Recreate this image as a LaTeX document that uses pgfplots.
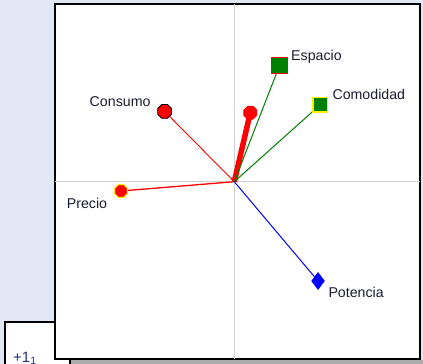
\documentclass[border=0pt]{standalone}
\usepackage{fontspec}
\setmainfont{Liberation Sans}
\usepackage{pgfplots}
\pgfplotsset{compat=1.18}
\definecolor{bg}{RGB}{226,231,245}
\definecolor{txt}{RGB}{28,28,48}
\definecolor{grn}{RGB}{0,128,0}
\definecolor{yel}{RGB}{255,240,0}
\definecolor{gridc}{RGB}{208,208,208}
\pgfdeclareplotmark{octagon}{%
  \pgfpathmoveto{\pgfpointpolar{22.5}{\pgfplotmarksize}}%
  \pgfpathlineto{\pgfpointpolar{67.5}{\pgfplotmarksize}}%
  \pgfpathlineto{\pgfpointpolar{112.5}{\pgfplotmarksize}}%
  \pgfpathlineto{\pgfpointpolar{157.5}{\pgfplotmarksize}}%
  \pgfpathlineto{\pgfpointpolar{202.5}{\pgfplotmarksize}}%
  \pgfpathlineto{\pgfpointpolar{247.5}{\pgfplotmarksize}}%
  \pgfpathlineto{\pgfpointpolar{292.5}{\pgfplotmarksize}}%
  \pgfpathlineto{\pgfpointpolar{337.5}{\pgfplotmarksize}}%
  \pgfpathclose
  \pgfusepathqfillstroke}
\newcommand{\lbl}{\fontsize{14.2}{16}\selectfont}
\begin{document}
\begin{tikzpicture}[x=1pt,y=1pt]
\clip (0,0) rectangle (423,364);
\fill[bg] (0,0) rectangle (423,364);
\fill[gray!65] (55,0) rectangle (423,4);
\filldraw[fill=white,draw=black,line width=1.2pt] (5,-5) rectangle (70,42);
\node[anchor=north west,inner sep=0,text={rgb,255:red,40;green,50;blue,130}] at (13,12) {\fontsize{15}{16}\selectfont +1\textsubscript{1}};
\begin{axis}[at={(55,5)}, anchor=south west, scale only axis,
  width=365pt, height=355pt,
  xmin=-179.3, xmax=185.7, ymin=-177.3, ymax=177.7,
  xtick=\empty, ytick=\empty,
  axis line style={black,line width=1.6pt},
  axis background/.style={fill=white},
  clip=false]
% reference lines
\addplot[gridc, line width=1.5pt] coordinates {(0,-177.3) (0,177.7)};
\addplot[gridc, line width=1.5pt] coordinates {(-179.3,0) (185.7,0)};
% vectors
\addplot[red, line width=0.9pt] coordinates {(0,0) (-69.7,70.3)};
\addplot[red, line width=5.5pt] coordinates {(0,0) (16,69)};
\addplot[grn, line width=1pt] coordinates {(0,0) (45.3,116.3)};
\addplot[grn, line width=1pt] coordinates {(0,0) (86,77)};
\addplot[red, line width=1.3pt] coordinates {(0,0) (-113.3,-9.3)};
\addplot[blue, line width=1pt] coordinates {(0,0) (83.7,-99.3)};
% markers
\addplot[only marks, mark=octagon, mark size=7.5pt, mark options={fill=red, draw=black, line width=0.8pt}] coordinates {(-69.7,70.3)};
\addplot[only marks, mark=octagon, mark size=7pt, mark options={fill=red, draw=red, line width=0.8pt}] coordinates {(16,69)};
\addplot[only marks, mark=square*, mark size=7.8pt, mark options={fill=grn, draw=red, line width=1pt}] coordinates {(45.3,116.3)};
\addplot[only marks, mark=square*, mark size=7.3pt, mark options={fill=grn, draw=yel, line width=1.3pt}] coordinates {(86,77)};
\addplot[only marks, mark=octagon, mark size=7pt, mark options={fill=red, draw=yel, line width=1.2pt}] coordinates {(-113.3,-9.3)};
\addplot[only marks, mark=diamond*, mark size=8.5pt, mark options={fill=blue, draw=blue, line width=0.5pt}] coordinates {(83.7,-99.3)};
% labels
\node[anchor=base east,inner sep=0pt,text=txt] at (axis cs:-83.6,75.4) {\lbl Consumo};
\node[anchor=base west,inner sep=0pt,text=txt] at (axis cs:56.7,121) {\lbl Espacio};
\node[anchor=base west,inner sep=0pt,text=txt] at (axis cs:98,81.7) {\lbl Comodidad};
\node[anchor=base west,inner sep=0pt,text=txt] at (axis cs:-167.6,-27.3) {\lbl Precio};
\node[anchor=base west,inner sep=0pt,text=txt] at (axis cs:94,-115.6) {\lbl Potencia};
\end{axis}
\end{tikzpicture}
\end{document}
